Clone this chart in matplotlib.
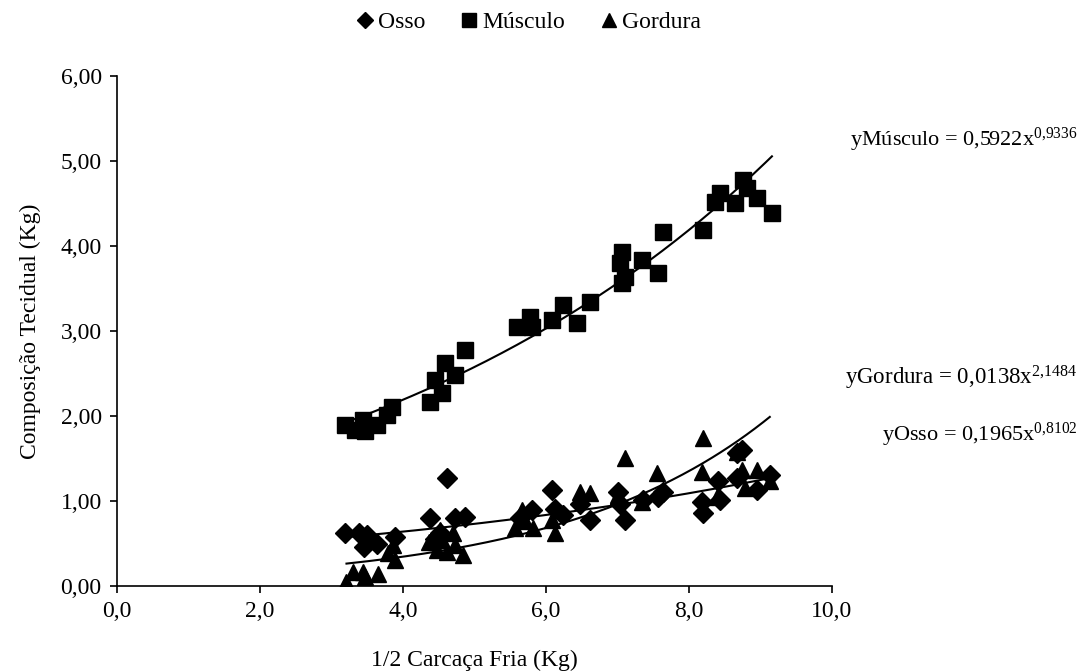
import matplotlib
matplotlib.use('Agg')

import matplotlib.pyplot as plt
import numpy as np
from matplotlib.ticker import FuncFormatter

plt.rcParams['font.family'] = ['Liberation Serif', 'DejaVu Serif']
plt.rcParams['mathtext.fontset'] = 'custom'
plt.rcParams['mathtext.rm'] = 'Liberation Serif'
plt.rcParams['mathtext.it'] = 'Liberation Serif:italic'

# Músculo (carcass weight, tissue weight)
musculo_x = [3.19, 3.33, 3.44, 3.47, 3.63, 3.77, 3.84, 4.38, 4.45, 4.54, 4.59, 4.73, 4.87,
             5.59, 5.78, 5.80, 6.08, 6.24, 6.43, 6.62, 7.03, 7.06, 7.06, 7.10, 7.34, 7.57,
             7.64, 8.19, 8.36, 8.43, 8.64, 8.76, 8.81, 8.95, 9.16]
musculo_y = [1.89, 1.84, 1.95, 1.82, 1.89, 2.01, 2.11, 2.17, 2.42, 2.27, 2.62, 2.48, 2.78,
             3.05, 3.17, 3.05, 3.13, 3.31, 3.09, 3.34, 3.80, 3.93, 3.56, 3.64, 3.84, 3.68,
             4.17, 4.19, 4.52, 4.62, 4.51, 4.78, 4.68, 4.56, 4.39]

# Osso
osso_x = [3.19, 3.38, 3.49, 3.45, 3.63, 3.89, 4.38, 4.45, 4.52, 4.61, 4.73, 4.87, 5.64, 5.80,
          6.08, 6.13, 6.24, 6.48, 6.62, 7.01, 7.03, 7.10, 7.36, 7.57, 7.64, 8.18, 8.20, 8.41,
          8.43, 8.67, 8.67, 8.74, 8.95, 9.13]
osso_y = [0.62, 0.62, 0.60, 0.46, 0.49, 0.58, 0.80, 0.55, 0.62, 1.27, 0.80, 0.81, 0.80, 0.89,
          1.13, 0.91, 0.84, 0.97, 0.78, 1.11, 0.97, 0.78, 1.01, 1.05, 1.11, 0.99, 0.86, 1.23,
          1.01, 1.27, 1.56, 1.60, 1.13, 1.31]

# Gordura
gordura_x = [3.21, 3.30, 3.44, 3.47, 3.65, 3.79, 3.89, 3.86, 4.36, 4.47, 4.52, 4.54, 4.61,
             4.70, 4.73, 4.84, 5.57, 5.66, 5.71, 5.82, 6.08, 6.13, 6.48, 6.62, 7.01, 7.10,
             7.34, 7.55, 8.18, 8.20, 8.39, 8.67, 8.74, 8.78, 8.95, 9.13]
gordura_y = [0.05, 0.17, 0.17, 0.11, 0.14, 0.39, 0.30, 0.48, 0.52, 0.42, 0.66, 0.54, 0.40,
             0.62, 0.48, 0.36, 0.68, 0.89, 0.76, 0.68, 0.78, 0.62, 1.11, 1.09, 1.07, 1.50,
             0.99, 1.33, 1.34, 1.74, 1.05, 1.58, 1.36, 1.15, 1.36, 1.23]

# trend lines as drawn in the chart: y = a * exp(b * x)
trend_musculo = (1.146, 0.162)
trend_osso = (0.375, 0.1335)
trend_gordura = (0.088, 0.3415)

eq_musculo = r'yMúsculo = 0,5922x$^{0{,}9336}$'
eq_gordura = r'yGordura = 0,0138x$^{2{,}1484}$'
eq_osso = r'yOsso = 0,1965x$^{0{,}8102}$'

fig = plt.figure(figsize=(10.86, 6.72), dpi=100)
ax = fig.add_axes([0.1077, 0.128, 0.6584, 0.759])

ax.plot(osso_x, osso_y, 'D', color='black', markersize=10, linestyle='none', label='Osso')
ax.plot(musculo_x, musculo_y, 's', color='black', markersize=12, linestyle='none', label='Músculo')
ax.plot(gordura_x, gordura_y, '^', color='black', markersize=12, linestyle='none', label='Gordura')

for xs, (a, b) in [(musculo_x, trend_musculo), (osso_x, trend_osso), (gordura_x, trend_gordura)]:
    xx = np.linspace(min(xs), max(xs), 200)
    ax.plot(xx, a * np.exp(b * xx), color='black', linewidth=1.5)

ax.set_xlim(0, 10)
ax.set_ylim(0, 6)
ax.set_xticks(np.arange(0, 10.1, 2))
ax.set_yticks(np.arange(0, 6.1, 1))
ax.xaxis.set_major_formatter(FuncFormatter(lambda v, p: f'{v:.1f}'.replace('.', ',')))
ax.yaxis.set_major_formatter(FuncFormatter(lambda v, p: f'{v:.2f}'.replace('.', ',')))
ax.tick_params(labelsize=17, direction='out', length=5, width=1.2, pad=6)
for s in ['top', 'right']:
    ax.spines[s].set_visible(False)
for s in ['left', 'bottom']:
    ax.spines[s].set_linewidth(1.2)

ax.set_xlabel('1/2 Carcaça Fria (Kg)', fontsize=17, labelpad=20)
ax.set_ylabel('Composição Tecidual (Kg)', fontsize=17, labelpad=14)

fig.text(0.992, 1 - 140 / 672, eq_musculo, fontsize=16, ha='right', va='center')
fig.text(0.992, 1 - 378 / 672, eq_gordura, fontsize=16.5, ha='right', va='center')
fig.text(0.992, 1 - 435 / 672, eq_osso, fontsize=16, ha='right', va='center')

fig.legend(loc='center', bbox_to_anchor=(0.487, 1 - 22 / 672), ncol=3, frameon=False,
           fontsize=17, handlelength=0.7, handletextpad=0.2, columnspacing=1.5,
           markerscale=0.8)

fig.savefig('out.png', dpi=100)
